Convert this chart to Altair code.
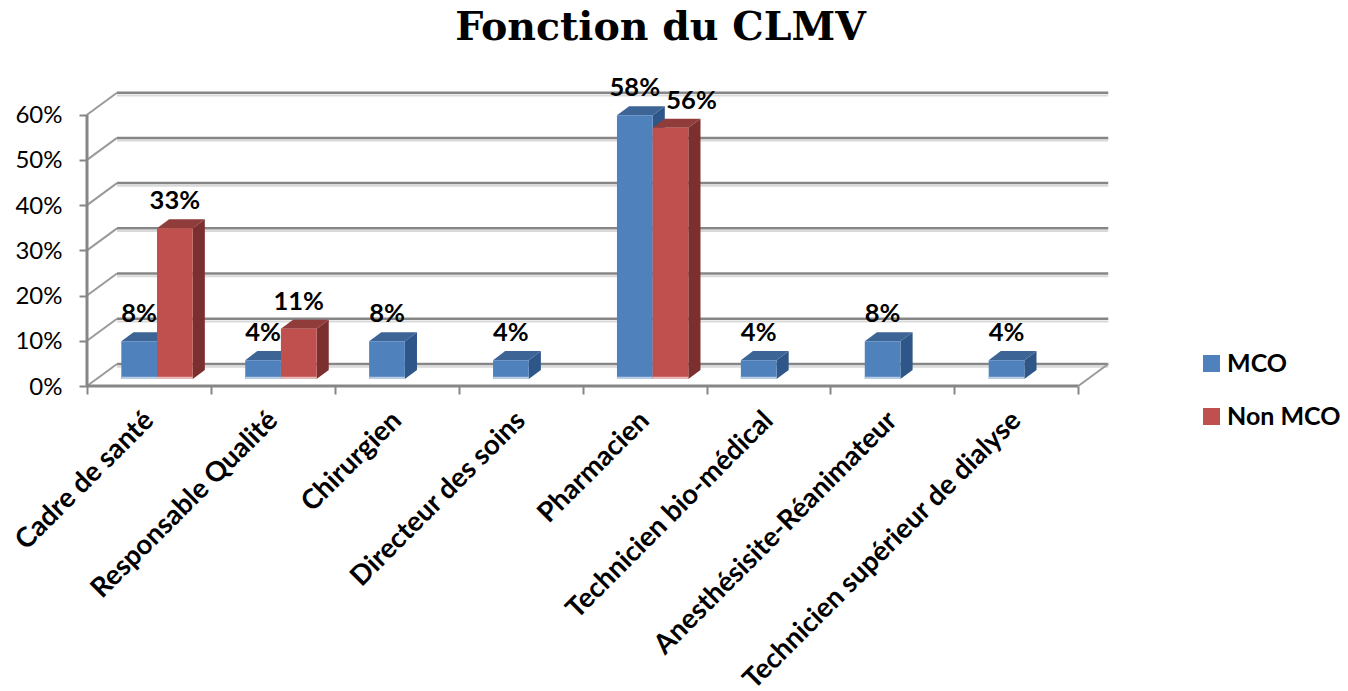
import json
import altair as alt
import pandas as pd

categories = ["Cadre de santé", "Responsable Qualité", "Chirurgien", "Directeur des soins",
              "Pharmacien", "Technicien bio-médical", "Anesthésisite-Réanimateur",
              "Technicien supérieur de dialyse"]
mco = [8.33, 4.17, 8.33, 4.17, 58.33, 4.17, 8.33, 4.17]
non_mco = [33.33, 11.11, None, None, 55.56, None, None, None]
non_mco_label_shift = [0, 0, 0, 0, 0.17, 0, 0, 0]
series_names = ["MCO", "Non MCO"]
y_ticks = [0, 10, 20, 30, 40, 50, 60]
title_text = "Fonction du CLMV"

FRONT = {"MCO": "#4F81BD", "Non MCO": "#C0504D"}
TOP = {"MCO": "#3C6596", "Non MCO": "#8F3C3A"}
SIDE = {"MCO": "#2F5688", "Non MCO": "#7B2F2E"}
BASE = {"MCO": "#B8CCE4", "Non MCO": "#E6B9B8"}
GREY = "#868686"
FONT = "Lato"

# depth of the box, in axis units
WALL_DX, WALL_DY = 0.242, 4.87
BAR_DX, BAR_DY = 0.098, 2.0
BAR_W, GROUP_SHIFT, FLOOR = 0.288, 0.065, 1.55

xs = alt.Scale(domain=[0, 8.256], nice=False, zero=False)
ys = alt.Scale(domain=[0, 64.8], nice=False, zero=False)
n = len(categories)


def X(field, **kw):
    kw.setdefault("axis", None)
    return alt.X(field, type="quantitative", scale=xs, **kw)


def Y(field, **kw):
    kw.setdefault("axis", None)
    return alt.Y(field, type="quantitative", scale=ys, **kw)


# walls
back = pd.DataFrame({"x": [WALL_DX] * len(y_ticks), "x2": [n + WALL_DX] * len(y_ticks),
                     "y": [v + WALL_DY for v in y_ticks], "under": [v + WALL_DY - 0.6 for v in y_ticks]})
diag = pd.DataFrame({"x": [0] * len(y_ticks) + [n], "x2": [WALL_DX] * len(y_ticks) + [n + WALL_DX],
                     "y": y_ticks + [0], "y2": [v + WALL_DY for v in y_ticks] + [WALL_DY]})
floor = pd.DataFrame({"x": [0], "x2": [n], "y": [0], "v": [0]})
spine = pd.DataFrame({"x": [0], "y": [min(y_ticks)], "y2": [max(y_ticks)]})

under = alt.Chart(back).mark_rule(color="#D9D9D9", strokeWidth=2).encode(x=X("x"), x2="x2", y=Y("under"))
grid = alt.Chart(back).mark_rule(color=GREY, strokeWidth=2.5).encode(x=X("x"), x2="x2", y=Y("y"))
diagonals = alt.Chart(diag).mark_rule(color="#9A9A9A", strokeWidth=2).encode(x=X("x"), x2="x2", y=Y("y"), y2="y2")
spine_line = alt.Chart(spine).mark_rule(color=GREY, strokeWidth=3).encode(x=X("x"), y=Y("y"), y2="y2")
y_axis = alt.Chart(floor).mark_rule(opacity=0).encode(
    x=X("x"), x2="x2",
    y=Y("v", axis=alt.Axis(orient="left", values=y_ticks, title=None, labelExpr="datum.value + '%'", labelFont=FONT,
                           labelFontSize=24, labelColor="#000000", labelPadding=17, labelOffset=1, domain=False,
                           tickColor=GREY, tickWidth=2, tickSize=8, grid=False)))
floor_line = alt.Chart(floor).mark_rule(color=GREY, strokeWidth=3).encode(
    x=X("x", axis=alt.Axis(orient="bottom", values=list(range(n + 1)), labels=False, title=None, domain=False,
                           grid=False, tickColor=GREY, tickWidth=2, tickSize=8)),
    x2="x2", y=Y("y"))

label_expr = "%s[round(datum.value - 0.5)]" % json.dumps(categories, ensure_ascii=False)
cat_axis = alt.Chart(floor).mark_rule(opacity=0).encode(
    x=X("x", axis=alt.Axis(orient="bottom", values=[i + 0.5 for i in range(n)], labelExpr=label_expr, title=None,
                           domain=False, grid=False, ticks=False, labelAngle=315, labelAlign="right",
                           labelBaseline="middle", labelFont=FONT, labelFontSize=27.5, labelFontWeight="bold",
                           labelColor="#000000", labelPadding=30, labelOverlap=False, labelBound=False,
                           labelFlush=False, labelLimit=700, labelOffset=0)),
    x2="x2", y=Y("y"))

# bars
rows, side_rows, top_rows = [], [], []
for s, (name, vals) in enumerate(zip(series_names, [mco, non_mco])):
    for i, v in enumerate(vals):
        if v is None:
            continue
        x0 = i + 0.5 + GROUP_SHIFT + (s - 1) * BAR_W
        x1 = x0 + BAR_W
        top = FLOOR + v
        shift = non_mco_label_shift[i] if name == "Non MCO" else 0
        rows.append(dict(s=name, x0=x0, x1=x1, base=FLOOR, top=top, strip=FLOOR + 0.5,
                         mid=(x0 + x1) / 2 + shift, label=f"{v:.0f}%"))
        key = f"{name}{i}"
        side_rows += [dict(s=name, k=key, x=x1, y=FLOOR, y2=top),
                      dict(s=name, k=key, x=x1 + BAR_DX, y=FLOOR + BAR_DY, y2=top + BAR_DY)]
        top_rows += [dict(s=name, k=key, y=top, x=x0, x2=x1),
                     dict(s=name, k=key, y=top + BAR_DY, x=x0 + BAR_DX, x2=x1 + BAR_DX)]
bars, sides, tops = pd.DataFrame(rows), pd.DataFrame(side_rows), pd.DataFrame(top_rows)

bar_layers = []
for name in series_names:
    b = bars[bars.s == name]
    show_legend = alt.Legend(title=None, orient="none", legendX=1112, legendY=258, symbolType="square",
                             symbolSize=290, symbolStrokeWidth=0, labelFont=FONT, labelFontSize=25,
                             labelFontWeight="bold", labelColor="#000000", rowPadding=27, labelOffset=3)
    bar_layers += [
        alt.Chart(sides[sides.s == name]).mark_area(color=SIDE[name], orient="vertical").encode(
            x=X("x"), y=Y("y"), y2="y2", detail="k:N"),
        alt.Chart(tops[tops.s == name]).mark_area(color=TOP[name], orient="horizontal").encode(
            y=Y("y"), x=X("x"), x2="x2", detail="k:N"),
        alt.Chart(b).mark_rect().encode(
            x=X("x0"), x2="x1", y=Y("base"), y2="top",
            color=alt.Color("s:N", scale=alt.Scale(domain=series_names, range=[FRONT[k] for k in series_names]),
                            legend=show_legend)),
        alt.Chart(b).mark_rect(color=BASE[name]).encode(x=X("x0"), x2="x1", y=Y("base"), y2="strip"),
    ]

labels = alt.Chart(bars).mark_text(font=FONT, fontSize=25.5, fontWeight="bold", color="#000000", dy=-19,
                                   baseline="alphabetic").encode(x=X("mid"), y=Y("top"), text="label:N")

chart = alt.layer(under, grid, diagonals, spine_line, y_axis, floor_line, cat_axis, *bar_layers, labels).resolve_axis(
    x="independent", y="independent"
).properties(
    width=1023, height=293, background="#FFFFFF",
    title=alt.TitleParams(title_text, font="DejaVu Serif", fontSize=39.5, fontWeight="bold", color="#000000",
                          anchor="middle", dx=62, offset=28),
    padding={"left": 79, "top": 85, "right": 230, "bottom": 305},
    autosize=alt.AutoSizeParams(type="none"),
).configure_view(stroke=None)

chart.save("out.html", embed_options={"renderer": "svg", "actions": False})
